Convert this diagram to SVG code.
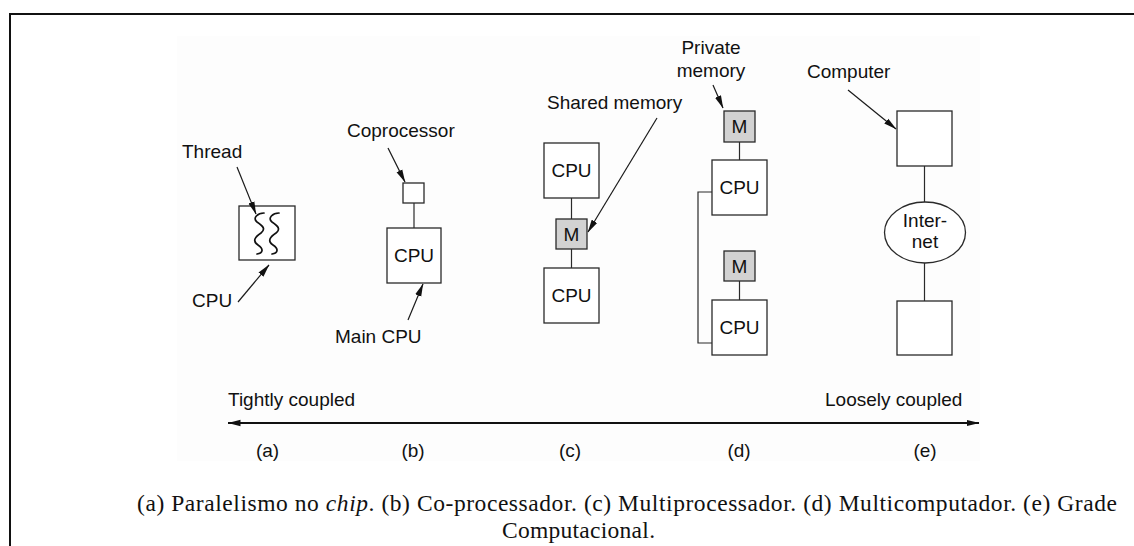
<svg xmlns="http://www.w3.org/2000/svg" width="1134" height="546" viewBox="0 0 1134 546">
  <defs>
    <marker id="head" viewBox="0 0 13 8" markerUnits="userSpaceOnUse" markerWidth="13" markerHeight="8" refX="12.5" refY="4" orient="auto-start-reverse">
      <path d="M0,0.8 L13,4 L0,7.2 Z" fill="#111"/>
    </marker>
    <style>
      .box { fill: #fff; stroke: #2a2a2a; stroke-width: 1.3; }
      .mem { fill: #d2d2d2; stroke: #2a2a2a; stroke-width: 1.3; }
      .wire { fill: none; stroke: #2a2a2a; stroke-width: 1.2; }
      .ptr { fill: none; stroke: #1a1a1a; stroke-width: 1.2; marker-end: url(#head); }
      .lbl { font-family: "Liberation Sans", Arial, sans-serif; font-size: 19px; fill: #111; }
      .mid { text-anchor: middle; }
      .cap { font-family: "Liberation Serif", "Times New Roman", serif; font-size: 23.5px; fill: #111; }
      .thread { fill: none; stroke: #111; stroke-width: 1.7; stroke-linecap: round; }
    </style>
  </defs>

  <rect width="1134" height="546" fill="#fff"/>
  <!-- page frame: top and left rules -->
  <path d="M9,14 H1134 M10,14 V546" fill="none" stroke="#111" stroke-width="2"/>
  <!-- figure area -->
  <rect x="177" y="36" width="803" height="425" fill="#fdfdfd"/>

  <!-- (a) chip-level parallelism -->
  <g id="node-a-cpu">
    <rect class="box" x="239" y="206" width="56" height="54"/>
    <path class="thread" d="M264,213 C258,213 252,218 257,222 C263,226 266,229 261,233 C255,237 252,241 258,245 C264,249 263,253 257,254"/>
    <path class="thread" d="M279,213 C273,213 267,218 272,222 C278,226 281,229 276,233 C270,237 267,241 273,245 C279,249 278,253 272,254"/>
  </g>

  <!-- (b) coprocessor -->
  <g id="node-b-coproc">
    <rect class="box" x="403" y="183" width="21" height="20"/>
  </g>
  <g id="node-b-cpu">
    <rect class="box" x="387" y="228" width="54" height="55"/>
    <text class="lbl mid" x="414" y="262">CPU</text>
  </g>

  <!-- (c) multiprocessor -->
  <g id="node-c-cpu1">
    <rect class="box" x="544" y="143" width="55" height="55"/>
    <text class="lbl mid" x="571.5" y="177">CPU</text>
  </g>
  <g id="node-c-mem">
    <rect class="mem" x="556" y="219" width="31" height="30"/>
    <text class="lbl mid" x="571.5" y="241">M</text>
  </g>
  <g id="node-c-cpu2">
    <rect class="box" x="544" y="268" width="55" height="55"/>
    <text class="lbl mid" x="571.5" y="302">CPU</text>
  </g>

  <!-- (d) multicomputer -->
  <g id="node-d-mem1">
    <rect class="mem" x="724" y="111" width="31" height="31"/>
    <text class="lbl mid" x="739.5" y="133">M</text>
  </g>
  <g id="node-d-cpu1">
    <rect class="box" x="712" y="160" width="55" height="55"/>
    <text class="lbl mid" x="739.5" y="194">CPU</text>
  </g>
  <g id="node-d-mem2">
    <rect class="mem" x="724" y="251" width="31" height="30"/>
    <text class="lbl mid" x="739.5" y="273">M</text>
  </g>
  <g id="node-d-cpu2">
    <rect class="box" x="712" y="300" width="55" height="55"/>
    <text class="lbl mid" x="739.5" y="334">CPU</text>
  </g>

  <!-- (e) grid -->
  <g id="node-e-comp1">
    <rect class="box" x="897" y="111" width="55" height="55"/>
  </g>
  <g id="node-e-internet">
    <ellipse class="box" cx="925" cy="232.5" rx="40.5" ry="30.5"/>
    <text class="lbl mid" x="925" y="227">Inter-</text>
    <text class="lbl mid" x="925" y="248">net</text>
  </g>
  <g id="node-e-comp2">
    <rect class="box" x="897" y="301" width="55" height="54"/>
  </g>

  <g id="connectors">
    <!-- links -->
    <path class="wire" d="M414,203 V228"/>
    <path class="wire" d="M571.5,198 V219 M571.5,249 V268"/>
    <path class="wire" d="M739.5,142 V160 M739.5,281 V300"/>
    <path class="wire" d="M712,192 H698 V343 H712"/>
    <path class="wire" d="M924.5,166 V202 M924.5,263 V301"/>
    <!-- callout arrows -->
    <path class="ptr" d="M237,167 L256,214"/>
    <path class="ptr" d="M238,302 L269,265"/>
    <path class="ptr" d="M388,148 L405,182"/>
    <path class="ptr" d="M408,320 L423,284"/>
    <path class="ptr" d="M657,118 L588,232"/>
    <path class="ptr" d="M713,85 L723,108"/>
    <path class="ptr" d="M848,90 L896,129"/>
    <!-- coupling scale -->
    <path d="M228,423 H979" fill="none" stroke="#111" stroke-width="1.8" marker-start="url(#head)" marker-end="url(#head)"/>
  </g>

  <g id="labels">
    <text class="lbl" x="182" y="158">Thread</text>
    <text class="lbl" x="192" y="307">CPU</text>
    <text class="lbl" x="347" y="137">Coprocessor</text>
    <text class="lbl" x="335" y="343">Main CPU</text>
    <text class="lbl" x="547" y="109">Shared memory</text>
    <text class="lbl mid" x="711" y="54">Private</text>
    <text class="lbl mid" x="711" y="77">memory</text>
    <text class="lbl" x="807" y="78">Computer</text>
    <text class="lbl" x="228" y="406">Tightly coupled</text>
    <text class="lbl" x="825" y="406">Loosely coupled</text>
    <text class="lbl mid" x="267.5" y="457">(a)</text>
    <text class="lbl mid" x="413" y="457">(b)</text>
    <text class="lbl mid" x="570" y="457">(c)</text>
    <text class="lbl mid" x="739" y="457">(d)</text>
    <text class="lbl mid" x="925" y="457">(e)</text>
  </g>

  <g id="caption">
    <text class="cap" x="137" y="511" textLength="980" lengthAdjust="spacing">(a) Paralelismo no <tspan font-style="italic">chip</tspan>. (b) Co-processador. (c) Multiprocessador. (d) Multicomputador. (e) Grade</text>
    <text class="cap" x="502" y="538" textLength="153" lengthAdjust="spacing">Computacional.</text>
  </g>
</svg>
